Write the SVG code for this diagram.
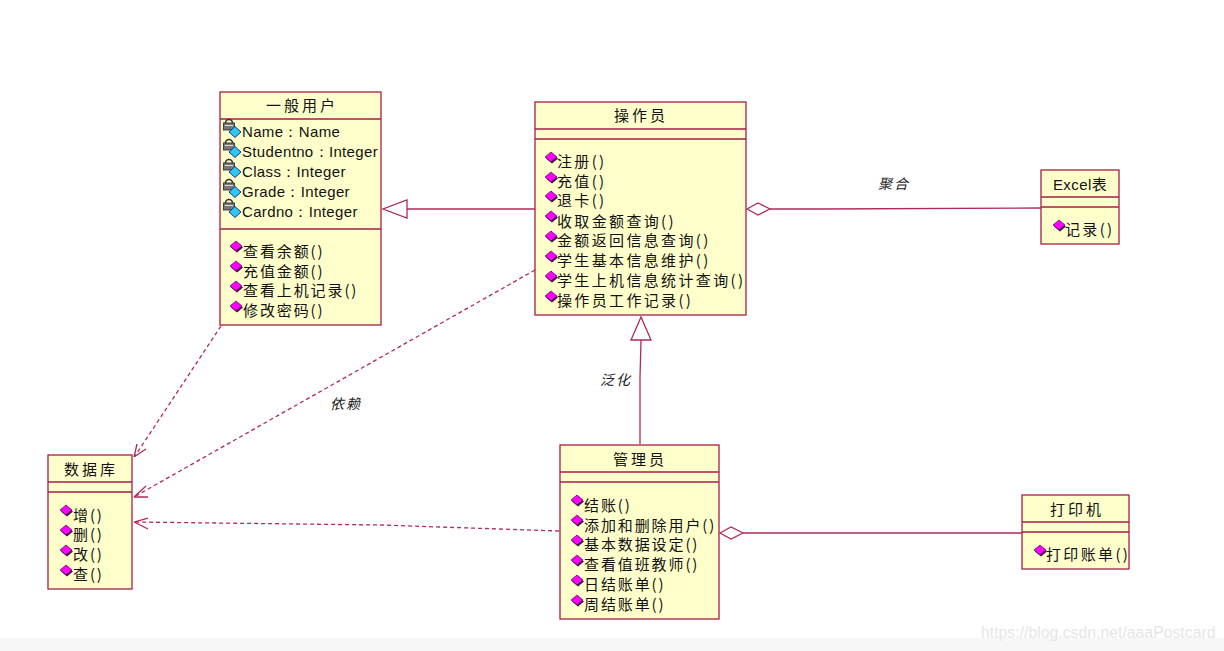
<svg xmlns="http://www.w3.org/2000/svg" width="1224" height="651" viewBox="0 0 1224 651">
<style>
text{font-family:"Noto Sans CJK SC","Noto Sans",sans-serif;font-size:15px;fill:#111;letter-spacing:1.9px}
.w{letter-spacing:2.35px}
.box{fill:#ffffcb;stroke:#a81e48;stroke-width:1.3}
.sep{stroke:#a81e48;stroke-width:1.3;fill:none}
.t{text-anchor:middle;letter-spacing:3px}
.a{font-family:"Liberation Sans",sans-serif;letter-spacing:.35px}
.e{font-family:"Liberation Sans","Noto Sans CJK SC",sans-serif;text-anchor:middle;letter-spacing:.4px}
.c{stroke:#b02a58;stroke-width:1.3;fill:none}
.d{stroke-dasharray:4 3}
.h{fill:#fff;stroke:#b02a58;stroke-width:1.3}
.l{font-size:14px;font-style:italic;fill:#222;letter-spacing:2px}
.wm{font-family:"Liberation Sans",sans-serif;font-size:15.8px;fill:#e6e6e6;letter-spacing:0}
</style>
<defs>
<g id="m"><path d="M1 -3.5L7 1.5L1 6.5L-5 1.5Z" fill="#40104a"/><path d="M0 -5L6 0L0 5L-6 0Z" fill="#f0f" stroke="#40104a" stroke-width=".7"/></g>
<g id="p"><path d="M-3.5 -6a3.5 3.5 0 0 1 7 0" fill="none" stroke="#333" stroke-width="1.6"/><rect x="-5.5" y="-6" width="11" height="7" fill="#777" stroke="#222" stroke-width=".8"/><path d="M-4 -3.5H4" stroke="#ddd" stroke-width="1"/><path d="M6 -2.5L12 3L6 8.5L0 3Z" fill="#2fc8f5" stroke="#123a80" stroke-width="1"/></g>
</defs>
<rect width="1224" height="651" fill="#fff"/>
<rect y="638" width="1224" height="13" fill="#f7f7f7"/>
<g id="connectors">
<path class="c" d="M535 209H407"/><path class="h" d="M407 200V218L383 209Z"/>
<path class="c" d="M640 444V378L641 340"/><path class="h" d="M641 317L631 340H651Z"/>
<path class="c" d="M770 209L820 209L1041 208"/><path class="h" d="M747 209L758 203L770 209L758 215Z"/>
<path class="c" d="M743 533H1022"/><path class="h" d="M720 533L731 527L743 533L731 539Z"/>
<path class="c d" d="M221 326L135 456"/><path class="c" d="M134 457L137 444M134 457L146 449"/>
<path class="c d" d="M535 270L134 497"/><path class="c" d="M134 497L146 486M134 497L148 497"/>
<path class="c d" d="M559 531L380 525L134 522"/><path class="c" d="M134 522L148 518M134 522L148 529"/>
</g>
<text class="l" x="878" y="189">聚合</text>
<text class="l" x="600" y="385">泛化</text>
<text class="l" x="330" y="409">依赖</text>
<g id="user">
<rect class="box" x="220" y="92" width="161" height="233"/>
<path class="sep" d="M220 119H381M220 229H381"/>
<text class="t" x="302" y="111">一般用户</text>
<use href="#p" x="229" y="129"/><text class="a" x="242" y="137">Name：Name</text>
<use href="#p" x="229" y="149"/><text class="a" x="242" y="157">Studentno：Integer</text>
<use href="#p" x="229" y="169"/><text class="a" x="242" y="177">Class：Integer</text>
<use href="#p" x="229" y="189"/><text class="a" x="242" y="197">Grade：Integer</text>
<use href="#p" x="229" y="209"/><text class="a" x="242" y="217">Cardno：Integer</text>
<use href="#m" x="236" y="246"/><text x="243" y="257">查看余额()</text>
<use href="#m" x="236" y="266"/><text x="243" y="277">充值金额()</text>
<use href="#m" x="236" y="286"/><text x="243" y="296">查看上机记录()</text>
<use href="#m" x="236" y="306"/><text x="243" y="316">修改密码()</text>
</g>
<g id="operator">
<rect class="box" x="535" y="102" width="211" height="213"/>
<path class="sep" d="M535 129H746M535 139H746"/>
<text class="t" x="641" y="121">操作员</text>
<use href="#m" x="551" y="157"/><text class="w" x="557" y="167">注册()</text>
<use href="#m" x="551" y="177"/><text class="w" x="557" y="187">充值()</text>
<use href="#m" x="551" y="196"/><text class="w" x="557" y="206">退卡()</text>
<use href="#m" x="551" y="216"/><text class="w" x="557" y="227">收取金额查询()</text>
<use href="#m" x="551" y="236"/><text class="w" x="557" y="246">金额返回信息查询()</text>
<use href="#m" x="551" y="256"/><text class="w" x="557" y="266">学生基本信息维护()</text>
<use href="#m" x="551" y="276"/><text class="w" x="557" y="286">学生上机信息统计查询()</text>
<use href="#m" x="551" y="296"/><text class="w" x="557" y="306">操作员工作记录()</text>
</g>
<g id="excel">
<rect class="box" x="1041" y="170" width="78" height="74"/>
<path class="sep" d="M1041 197H1119M1041 207H1119"/>
<text class="e" x="1080" y="190">Excel表</text>
<use href="#m" x="1059" y="225"/><text class="w" x="1065" y="235">记录()</text>
</g>
<g id="admin">
<rect class="box" x="560" y="445" width="159" height="174"/>
<path class="sep" d="M560 472H719M560 482H719"/>
<text class="t" x="640" y="465">管理员</text>
<use href="#m" x="577" y="500"/><text x="584" y="511">结账()</text>
<use href="#m" x="577" y="520"/><text x="584" y="531">添加和删除用户()</text>
<use href="#m" x="577" y="540"/><text x="584" y="550">基本数据设定()</text>
<use href="#m" x="577" y="560"/><text x="584" y="570">查看值班教师()</text>
<use href="#m" x="577" y="580"/><text x="584" y="590">日结账单()</text>
<use href="#m" x="577" y="600"/><text x="584" y="610">周结账单()</text>
</g>
<g id="printer">
<rect class="box" x="1022" y="495" width="107" height="74"/>
<path class="sep" d="M1022 522H1129M1022 532H1129"/>
<text class="t" x="1077" y="515">打印机</text>
<use href="#m" x="1040" y="550"/><text class="w" x="1046" y="560">打印账单()</text>
</g>
<g id="database">
<rect class="box" x="48" y="455" width="84" height="134"/>
<path class="sep" d="M48 482H132M48 492H132"/>
<text class="t" x="91" y="475">数据库</text>
<use href="#m" x="66" y="510"/><text x="73" y="521">增()</text>
<use href="#m" x="66" y="530"/><text x="73" y="540">删()</text>
<use href="#m" x="66" y="550"/><text x="73" y="560">改()</text>
<use href="#m" x="66" y="570"/><text x="73" y="580">查()</text>
</g>
<text class="wm" x="981" y="638">https://blog.csdn.net/aaaPostcard</text>
</svg>
